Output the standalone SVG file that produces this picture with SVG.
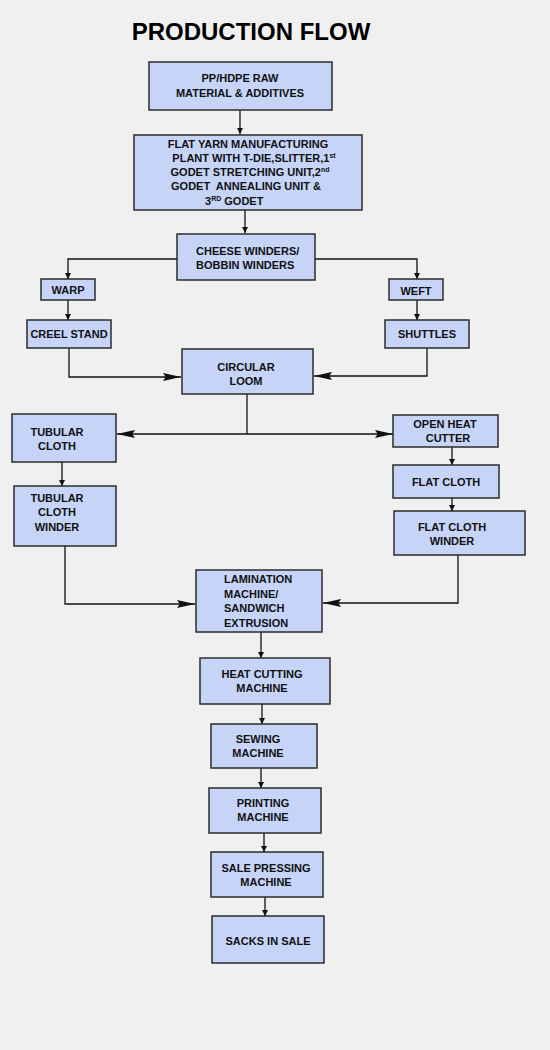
<svg xmlns="http://www.w3.org/2000/svg" width="550" height="1050" viewBox="0 0 550 1050">
<defs>
<style>
.bx{fill:#c6d4f8;stroke:#2b2b2b;stroke-width:1.5}
.t{font-family:"Liberation Sans",Arial,sans-serif;font-weight:bold;font-size:11px;fill:#111;text-anchor:middle}
.tl{font-family:"Liberation Sans",Arial,sans-serif;font-weight:bold;font-size:11px;fill:#111}
.sup{font-size:7px}
.ln{fill:none;stroke:#111;stroke-width:1.3}
</style>
<marker id="a" viewBox="0 0 10 10" refX="10" refY="5" markerWidth="6" markerHeight="6" markerUnits="userSpaceOnUse" orient="auto"><path d="M0,0L10,5L0,10z" fill="#111"/></marker>
<marker id="b" viewBox="0 0 20 10" refX="20" refY="5" markerWidth="20" markerHeight="9" markerUnits="userSpaceOnUse" orient="auto"><path d="M0,0.5L20,5L0,9.5L3,5z" fill="#111"/></marker>
</defs>
<rect width="550" height="1050" fill="#f0f0f0"/>
<text x="251" y="40" font-family="Liberation Sans,Arial,sans-serif" font-weight="bold" font-size="24" text-anchor="middle" fill="#000">PRODUCTION FLOW</text>

<g id="connectors">
<path class="ln" d="M240,110V134" marker-end="url(#a)"/>
<path class="ln" d="M245,210V233" marker-end="url(#a)"/>
<path class="ln" d="M177,259H68V279" marker-end="url(#a)"/>
<path class="ln" d="M315,259H417V279" marker-end="url(#a)"/>
<path class="ln" d="M68,300V320" marker-end="url(#a)"/>
<path class="ln" d="M417,300V320" marker-end="url(#a)"/>
<path class="ln" d="M69,348V377H181" marker-end="url(#b)"/>
<path class="ln" d="M427,348V376H314" marker-end="url(#b)"/>
<path class="ln" d="M247,394V434"/>
<path class="ln" d="M247,434H117" marker-end="url(#b)"/>
<path class="ln" d="M247,434H393" marker-end="url(#b)"/>
<path class="ln" d="M62,462V486" marker-end="url(#a)"/>
<path class="ln" d="M452,447V465" marker-end="url(#a)"/>
<path class="ln" d="M452,498V511" marker-end="url(#a)"/>
<path class="ln" d="M65,546V604H195" marker-end="url(#b)"/>
<path class="ln" d="M458,555V603H323" marker-end="url(#b)"/>
<path class="ln" d="M261,632V658" marker-end="url(#a)"/>
<path class="ln" d="M262,704V724" marker-end="url(#a)"/>
<path class="ln" d="M261,768V788" marker-end="url(#a)"/>
<path class="ln" d="M264,833V852" marker-end="url(#a)"/>
<path class="ln" d="M265,897V916" marker-end="url(#a)"/>
</g>

<g id="raw"><rect class="bx" x="149" y="62" width="183" height="48"/>
<text class="t" x="240" y="82">PP/HDPE RAW</text><text class="t" x="240" y="97">MATERIAL &amp; ADDITIVES</text></g>

<g id="flatyarn"><rect class="bx" x="134" y="135" width="228" height="75"/>
<text class="t" x="248" y="148">FLAT YARN MANUFACTURING</text>
<text class="t" x="254" y="162">PLANT WITH T-DIE,SLITTER,1<tspan class="sup" dy="-4">st</tspan></text>
<text class="t" x="250" y="176">GODET STRETCHING UNIT,2<tspan class="sup" dy="-4">nd</tspan></text>
<text class="t" x="246" y="190">GODET&#160; ANNEALING UNIT &amp;</text>
<text class="tl" x="205" y="205">3<tspan class="sup" dy="-4">RD</tspan><tspan dy="4"> GODET</tspan></text></g>

<g id="cheese"><rect class="bx" x="177" y="234" width="138" height="46"/>
<text class="tl" x="196" y="255">CHEESE WINDERS/</text><text class="tl" x="196" y="269">BOBBIN WINDERS</text></g>

<g id="warp"><rect class="bx" x="41" y="279" width="54" height="21"/><text class="t" x="68" y="294">WARP</text></g>
<g id="weft"><rect class="bx" x="389" y="279" width="54" height="21"/><text class="t" x="416" y="295">WEFT</text></g>
<g id="creel"><rect class="bx" x="27" y="320" width="84" height="28"/><text class="t" x="69" y="338">CREEL STAND</text></g>
<g id="shuttles"><rect class="bx" x="385" y="320" width="84" height="28"/><text class="t" x="427" y="338">SHUTTLES</text></g>

<g id="loom"><rect class="bx" x="182" y="349" width="131" height="45"/>
<text class="t" x="246" y="371">CIRCULAR</text><text class="t" x="246" y="385">LOOM</text></g>

<g id="tubular"><rect class="bx" x="12" y="414" width="104" height="48"/>
<text class="t" x="57" y="436">TUBULAR</text><text class="t" x="57" y="450">CLOTH</text></g>

<g id="openheat"><rect class="bx" x="393" y="415" width="105" height="32"/>
<text class="t" x="445" y="428">OPEN HEAT</text><text class="t" x="448" y="442">CUTTER</text></g>

<g id="tubwinder"><rect class="bx" x="14" y="486" width="102" height="60"/>
<text class="t" x="57" y="502">TUBULAR</text><text class="t" x="57" y="516">CLOTH</text><text class="t" x="57" y="531">WINDER</text></g>

<g id="flatcloth"><rect class="bx" x="393" y="465" width="106" height="33"/>
<text class="t" x="446" y="486">FLAT CLOTH</text></g>

<g id="flatwinder"><rect class="bx" x="394" y="511" width="131" height="44"/>
<text class="t" x="452" y="531">FLAT CLOTH</text><text class="t" x="452" y="545">WINDER</text></g>

<g id="lamination"><rect class="bx" x="196" y="570" width="126" height="62"/>
<text class="tl" x="224" y="583">LAMINATION</text><text class="tl" x="224" y="598">MACHINE/</text>
<text class="tl" x="224" y="612">SANDWICH</text><text class="tl" x="224" y="627">EXTRUSION</text></g>

<g id="heatcut"><rect class="bx" x="200" y="658" width="130" height="46"/>
<text class="t" x="262" y="678">HEAT CUTTING</text><text class="t" x="262" y="692">MACHINE</text></g>

<g id="sewing"><rect class="bx" x="211" y="724" width="106" height="44"/>
<text class="t" x="258" y="743">SEWING</text><text class="t" x="258" y="757">MACHINE</text></g>

<g id="printing"><rect class="bx" x="209" y="788" width="112" height="45"/>
<text class="t" x="263" y="807">PRINTING</text><text class="t" x="263" y="821">MACHINE</text></g>

<g id="salepress"><rect class="bx" x="211" y="852" width="112" height="45"/>
<text class="t" x="266" y="872">SALE PRESSING</text><text class="t" x="266" y="886">MACHINE</text></g>

<g id="sacks"><rect class="bx" x="212" y="916" width="112" height="47"/>
<text class="t" x="268" y="945">SACKS IN SALE</text></g>
</svg>
